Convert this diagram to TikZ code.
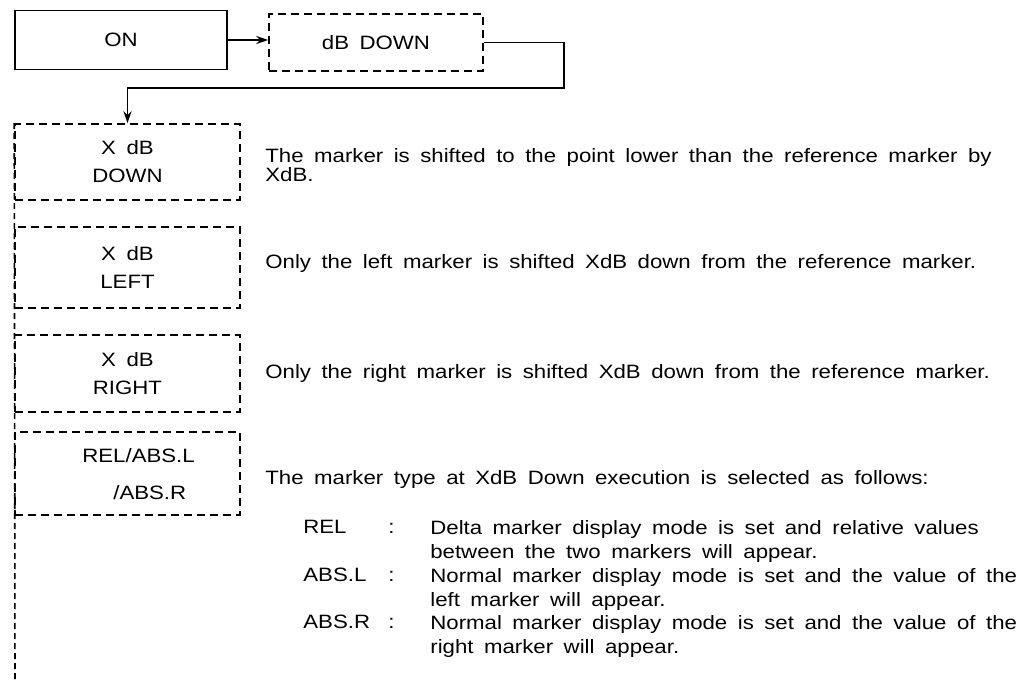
\documentclass[tikz,border=0pt]{standalone}
\usepackage{fontspec}
\setmainfont{Liberation Sans}[FakeStretch=1.15,WordSpace=1.7]
\usetikzlibrary{arrows.meta}
\begin{document}
\begin{tikzpicture}[x=0.02cm,y=-0.02cm,
  every node/.style={font=\fontsize{11}{13}\selectfont, inner sep=0pt},
  solidbox/.style={draw, line width=1.1pt},
  dashbox/.style={draw, line width=0.9pt, dash pattern=on 0.16cm off 0.1cm, align=center, font=\fontsize{11}{0.56cm}\selectfont},
  conn/.style={line width=1pt, -{Stealth[length=0.24cm,width=0.16cm]}},
  vdash/.style={line width=0.9pt, dash pattern=on 0.12cm off 0.08cm},
  desc/.style={anchor=north west, align=left},
  line/.style={anchor=base west}
]
\useasboundingbox (0,0) rectangle (1029,683);
% boxes
\node[solidbox, minimum width=4.24cm, minimum height=1.18cm] (on) at (121,40) {ON};
\node[dashbox, minimum width=4.28cm, minimum height=1.14cm] (dbd) at (376,42.5) {dB DOWN};
\node[dashbox, minimum width=4.5cm, minimum height=1.52cm] (b1) at (127.5,162) {X dB\\DOWN};
\node[dashbox, minimum width=4.5cm, minimum height=1.62cm] (b2) at (127.5,267.5) {X dB\\LEFT};
\node[dashbox, minimum width=4.5cm, minimum height=1.54cm] (b3) at (127.5,373.5) {X dB\\RIGHT};
\node[dashbox, minimum width=4.5cm, minimum height=1.66cm] (b4) at (127.5,473.5) {};
\node[desc, font=\fontsize{11}{0.74cm}\selectfont] (b4t) at (82,448) {REL/ABS.L\\\hspace*{0.62cm}/ABS.R};
% connectors
\coordinate (c1) at (564,88);
\coordinate (lbot) at (15,683);
\draw[conn] (on.east) -- (on.east -| dbd.west);
\draw[conn] (dbd.east) -| (c1) -| (b1.north);
\draw[vdash] (b1.north west) -- (lbot);
% descriptions
\node[desc, font=\fontsize{11}{0.374cm}\selectfont] (t1) at (265,148) {The marker is shifted to the point lower than the reference marker by\\XdB.};
\node[line] (t2) at (265,268) {Only the left marker is shifted XdB down from the reference marker.};
\node[line] (t3) at (265,378) {Only the right marker is shifted XdB down from the reference marker.};
\node[line] (t4) at (265,484) {The marker type at XdB Down execution is selected as follows:};
\node[line] (l1) at (303,533) {REL};
\node[line] (l2) at (303,581) {ABS.L};
\node[line] (l3) at (303,628) {ABS.R};
\node[line] (k1) at (388,533) {:};
\node[line] (k2) at (388,581) {:};
\node[line] (k3) at (388,628) {:};
\node[desc, font=\fontsize{11}{0.48cm}\selectfont] (d1) at (430,520) {Delta marker display mode is set and relative values\\between the two markers will appear.};
\node[desc, font=\fontsize{11}{0.48cm}\selectfont] (d2) at (430,568) {Normal marker display mode is set and the value of the\\left marker will appear.};
\node[desc, font=\fontsize{11}{0.48cm}\selectfont] (d3) at (430,615) {Normal marker display mode is set and the value of the\\right marker will appear.};
\end{tikzpicture}
\end{document}
